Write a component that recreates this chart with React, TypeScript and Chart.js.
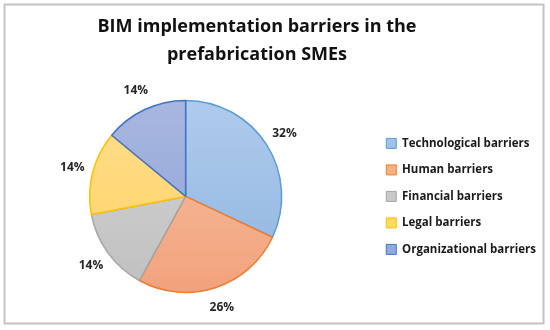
import React, { useEffect, useRef } from "react";
import { Chart, registerables } from "chart.js";

Chart.register(...registerables);

const titleLines = ["BIM implementation barriers in the", "prefabrication SMEs"];
const categories = [
  "Technological barriers",
  "Human barriers",
  "Financial barriers",
  "Legal barriers",
  "Organizational barriers",
];
const shares = [32, 26, 14, 14, 14];
const fillTop = ["#AECBEC", "#F7C1A3", "#D4D4D4", "#FFDE8E", "#A8B7E0"];
const fillBottom = ["#90B5E0", "#F2A27C", "#C0C0C0", "#FFD262", "#8EA2D7"];
const legendFill = ["#9DC3E6", "#F4B183", "#C9C9C9", "#FFD966", "#8FAADC"];
const borderColors = ["#5B9BD5", "#ED7D31", "#A5A5A5", "#FFC000", "#4472C4"];

const FONT = "'Open Sans', sans-serif";
const PIE_R = 96;
const TITLE_SHIFT = 28;

const framePlugin = {
  id: "frame",
  afterLayout(chart: any) {
    if (chart.titleBlock) chart.titleBlock.right -= TITLE_SHIFT;
  },
  beforeDraw(chart: any) {
    const { ctx, width, height } = chart;
    ctx.save();
    ctx.fillStyle = "#ffffff";
    ctx.fillRect(0, 0, width, height);
    ctx.strokeStyle = "#C3C3C3";
    ctx.lineWidth = 2;
    ctx.strokeRect(4.5, 4.5, 539, 319);
    ctx.restore();
  },
};

const outsideLabels = {
  id: "outsideLabels",
  afterDatasetsDraw(chart: any) {
    const { ctx } = chart;
    const meta = chart.getDatasetMeta(0);
    const data = chart.data.datasets[0].data as number[];
    const total = data.reduce((a, b) => a + b, 0);
    ctx.save();
    ctx.font = `bold 12px ${FONT}`;
    ctx.fillStyle = "#262626";
    ctx.textAlign = "center";
    ctx.textBaseline = "middle";
    meta.data.forEach((arc: any, i: number) => {
      const { x, y, startAngle, endAngle, outerRadius } = arc.getProps(
        ["x", "y", "startAngle", "endAngle", "outerRadius"],
        true
      );
      const mid = (startAngle + endAngle) / 2;
      const d = outerRadius + 21;
      const pct = Math.round((data[i] / total) * 100) + "%";
      ctx.fillText(pct, x + Math.cos(mid) * d, y + Math.sin(mid) * d);
    });
    ctx.restore();
  },
};

export default function App() {
  const ref = useRef<HTMLCanvasElement>(null);
  useEffect(() => {
    document.body.style.margin = "0";
    const canvas = ref.current!;
    const chart = new Chart(canvas, {
      type: "pie",
      data: {
        labels: categories,
        datasets: [
          {
            data: shares,
            radius: PIE_R,
            backgroundColor: (c: any) => {
              const ch = c.chart;
              const area = ch.chartArea;
              const i = c.dataIndex;
              if (!area || i === undefined) return legendFill[i ?? 0];
              const cy = (area.top + area.bottom) / 2;
              const g = ch.ctx.createLinearGradient(0, cy - PIE_R, 0, cy + PIE_R);
              g.addColorStop(0, fillTop[i]);
              g.addColorStop(1, fillBottom[i]);
              return g;
            },
            borderColor: borderColors,
            borderWidth: 1.5,
          } as any,
        ],
      },
      options: {
        responsive: false,
        animation: false,
        layout: { padding: { left: -4, right: 4, top: 0, bottom: 12 } },
        plugins: {
          title: {
            display: true,
            text: titleLines,
            color: "#111111",
            font: { family: FONT, size: 18, weight: "bold", lineHeight: 1.55 },
            padding: { top: 13, bottom: 6 },
          },
          legend: {
            position: "right",
            fullSize: false,
            labels: {
              boxWidth: 10,
              boxHeight: 10,
              padding: 15,
              color: "#1a1a1a",
              font: { family: FONT, size: 11.5, weight: "bold" },
              generateLabels: (ch: any) =>
                ch.data.labels.map((t: string, i: number) => ({
                  text: t,
                  fillStyle: legendFill[i],
                  strokeStyle: borderColors[i],
                  lineWidth: 1,
                  hidden: false,
                  index: i,
                  fontColor: "#1a1a1a",
                })),
            },
          },
          tooltip: { enabled: false },
        },
      },
      plugins: [framePlugin, outsideLabels],
    });
    return () => chart.destroy();
  }, []);
  return <canvas ref={ref} width={550} height={330} style={{ display: "block" }} />;
}
